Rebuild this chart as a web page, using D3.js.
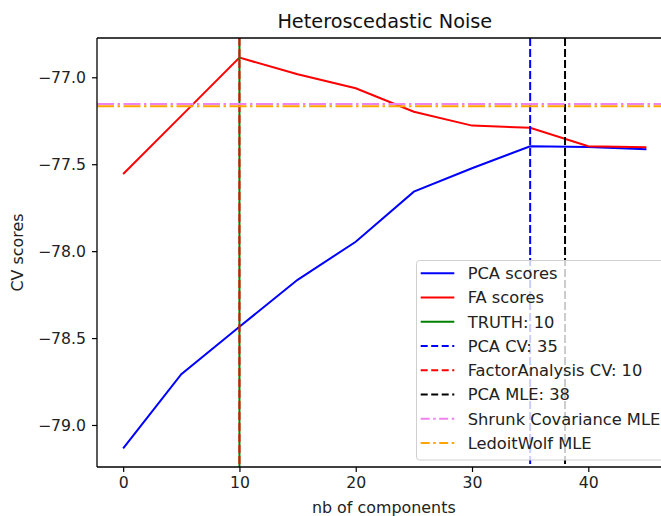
<!DOCTYPE html>
<html>
<head>
<meta charset="utf-8">
<script src="https://cdn.jsdelivr.net/npm/d3@7"></script>
<style>
  html, body { margin: 0; padding: 0; background: #fff; }
  svg { display: block; font-family: "DejaVu Sans", sans-serif; }
</style>
</head>
<body>
<svg id="chart" width="661" height="516"></svg>
<script>
// ---- data ----
const nComponents = [0, 5, 10, 15, 20, 25, 30, 35, 40, 45];
const pcaScores = [-79.134, -78.708, -78.435, -78.165, -77.946, -77.658, -77.523, -77.397, -77.401, -77.414];
const faScores  = [-77.556, -77.222, -76.887, -76.983, -77.063, -77.198, -77.278, -77.290, -77.397, -77.403];
const truthRank = 10;
const pcaCV = 35;
const faCV = 10;
const pcaMLE = 38;
const shrunkMLE = -77.153;
const ledoitMLE = -77.166;
const xTicks = [0, 10, 20, 30, 40];
const yTicks = [-79.0, -78.5, -78.0, -77.5, -77.0];
const legendLabels = ["PCA scores", "FA scores", "TRUTH: 10", "PCA CV: 35",
  "FactorAnalysis CV: 10", "PCA MLE: 38", "Shrunk Covariance MLE", "LedoitWolf MLE"];

// ---- layout ----
const svg = d3.select("#chart");
const L = 97, T = 38, R = 672.6, B = 467;
const x = d3.scaleLinear().domain([-2.25, 47.25]).range([L, R]);
const y = d3.scaleLinear().domain([-79.2416, -76.774]).range([B, T]);
const LW = 2;
const dash = "8,3";
const dashdot = "17,3.5,2.5,3.5";

svg.append("rect").attr("width", 661).attr("height", 516).attr("fill", "#fff");

svg.append("clipPath").attr("id", "clip")
  .append("rect").attr("x", L).attr("y", T).attr("width", R - L).attr("height", B - T);
const plot = svg.append("g").attr("clip-path", "url(#clip)");

const line = d3.line().x((d, i) => x(nComponents[i])).y(d => y(d));

plot.append("path").datum(pcaScores).attr("d", line)
  .attr("fill", "none").attr("stroke", "#0000ff").attr("stroke-width", LW);
plot.append("path").datum(faScores).attr("d", line)
  .attr("fill", "none").attr("stroke", "#ff0000").attr("stroke-width", LW);

function vline(v, color, da) {
  plot.append("line").attr("x1", x(v)).attr("x2", x(v)).attr("y1", T).attr("y2", B)
    .attr("stroke", color).attr("stroke-width", LW).attr("stroke-dasharray", da || null);
}
function hline(v, color, da) {
  plot.append("line").attr("x1", L).attr("x2", R).attr("y1", y(v)).attr("y2", y(v))
    .attr("stroke", color).attr("stroke-width", LW).attr("stroke-dasharray", da || null);
}
vline(truthRank, "#008000");
vline(pcaCV, "#0000ff", dash);
vline(faCV, "#ff0000", dash);
vline(pcaMLE, "#000000", dash);
hline(shrunkMLE, "#ee82ee", dashdot);
hline(ledoitMLE, "#ffa500", dashdot);

// ---- axes ----
const xAxis = d3.axisBottom(x).tickValues(xTicks).tickFormat(d3.format("d"))
  .tickSizeOuter(0).tickSizeInner(5).tickPadding(5);
const gx = svg.append("g").attr("transform", `translate(0,${B})`).call(xAxis);
const yAxis = d3.axisLeft(y).tickValues(yTicks)
  .tickFormat(d => d3.format(".1f")(d).replace("-", "\u2212"))
  .tickSizeOuter(0).tickSizeInner(5).tickPadding(6);
const gy = svg.append("g").attr("transform", `translate(${L},0)`).call(yAxis);
[gx, gy].forEach(g => {
  g.select(".domain").remove();
  g.selectAll(".tick line").attr("stroke", "#000").attr("stroke-width", 1.2);
  g.selectAll(".tick text").attr("fill", "#222").attr("font-size", 15.7)
    .attr("font-family", "DejaVu Sans");
});

// spines
[[L, T, L, B], [L, B, R, B], [L, T, R, T], [R, T, R, B]].forEach(s => {
  svg.append("line").attr("x1", s[0]).attr("y1", s[1]).attr("x2", s[2]).attr("y2", s[3])
    .attr("stroke", "#000").attr("stroke-width", 1.3);
});

// labels
svg.append("text").attr("x", (L + R) / 2).attr("y", 28).attr("text-anchor", "middle")
  .attr("font-size", 19.3).attr("fill", "#111").text("Heteroscedastic Noise");
svg.append("text").attr("x", (L + R) / 2 - 1).attr("y", 513).attr("text-anchor", "middle")
  .attr("font-size", 15.9).attr("fill", "#222").text("nb of components");
svg.append("text").attr("transform", `translate(23,${(T + B) / 2}) rotate(-90)`)
  .attr("text-anchor", "middle").attr("font-size", 15.9).attr("fill", "#222").text("CV scores");

// ---- legend ----
const styles = [
  { c: "#0000ff", d: null }, { c: "#ff0000", d: null }, { c: "#008000", d: null },
  { c: "#0000ff", d: "7,3.5" }, { c: "#ff0000", d: "7,3.5" }, { c: "#000000", d: "7,3.5" },
  { c: "#ee82ee", d: "9,3.5,2.5,3.5" }, { c: "#ffa500", d: "9,3.5,2.5,3.5" }
];
const lg = svg.append("g");
lg.append("rect").attr("x", 416.5).attr("y", 260.5).attr("width", 252).attr("height", 199.5)
  .attr("rx", 3).attr("fill", "#fff").attr("fill-opacity", 0.8)
  .attr("stroke", "#d0d0d0").attr("stroke-width", 1);
const ly = d3.scaleLinear().domain([0, legendLabels.length - 1]).range([273.3, 443]);
legendLabels.forEach((lab, i) => {
  lg.append("line").attr("x1", 420.7).attr("x2", 454.3).attr("y1", ly(i)).attr("y2", ly(i))
    .attr("stroke", styles[i].c).attr("stroke-width", LW)
    .attr("stroke-dasharray", styles[i].d);
  lg.append("text").attr("x", 467.7).attr("y", ly(i)).attr("dy", "0.36em")
    .attr("font-size", 16.3).attr("fill", "#222").text(lab);
});
</script>
</body>
</html>
